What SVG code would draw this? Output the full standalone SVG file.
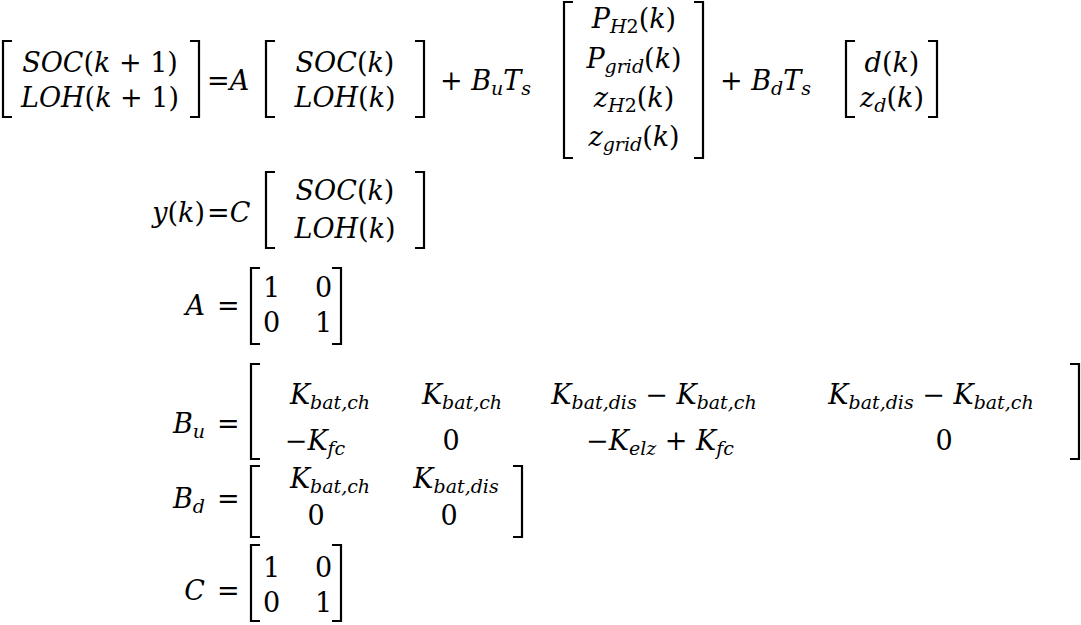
<svg xmlns="http://www.w3.org/2000/svg" width="1081" height="625" viewBox="0 0 1081 625" font-family="'DejaVu Serif','Liberation Serif',serif">
<style>
text{font-family:"DejaVu Serif","Liberation Serif",serif;font-size:27px;fill:#000}
.i{font-style:italic}
.s{font-size:19px}
.b{fill:none;stroke:#000;stroke-width:2.2}
</style>
<rect width="1081" height="625" fill="#fff"/>
<g id="eq1">
<path class="b" d="M12 41H3V117H12M190 41H199V117H190"/>
<text x="100" y="72" text-anchor="middle"><tspan class="i">SOC</tspan>(<tspan class="i">k</tspan> + 1)</text>
<text x="100" y="107" text-anchor="middle"><tspan class="i">LOH</tspan>(<tspan class="i">k</tspan> + 1)</text>
<text x="207" y="90">=<tspan class="i">A</tspan></text>
<path class="b" d="M275 41H266V117H275M415 41H424V117H415"/>
<text x="345" y="72" text-anchor="middle"><tspan class="i">SOC</tspan>(<tspan class="i">k</tspan>)</text>
<text x="345" y="107" text-anchor="middle"><tspan class="i">LOH</tspan>(<tspan class="i">k</tspan>)</text>
<text x="440" y="90">+ <tspan class="i">B</tspan><tspan class="i s" dy="5">u</tspan><tspan class="i" dy="-5">T</tspan><tspan class="i s" dy="5">s</tspan></text>
<path class="b" d="M573 2H564V158H573M694 2H703V158H694"/>
<text x="634" y="28" text-anchor="middle"><tspan class="i">P</tspan><tspan class="i s" dy="5">H</tspan><tspan class="s">2</tspan><tspan dy="-5">(</tspan><tspan class="i">k</tspan>)</text>
<text x="634" y="68" text-anchor="middle"><tspan class="i">P</tspan><tspan class="i s" dy="5">grid</tspan><tspan dy="-5">(</tspan><tspan class="i">k</tspan>)</text>
<text x="634" y="107" text-anchor="middle"><tspan class="i">z</tspan><tspan class="i s" dy="5">H</tspan><tspan class="s">2</tspan><tspan dy="-5">(</tspan><tspan class="i">k</tspan>)</text>
<text x="634" y="146" text-anchor="middle"><tspan class="i">z</tspan><tspan class="i s" dy="5">grid</tspan><tspan dy="-5">(</tspan><tspan class="i">k</tspan>)</text>
<text x="720" y="90">+ <tspan class="i">B</tspan><tspan class="i s" dy="5">d</tspan><tspan class="i" dy="-5">T</tspan><tspan class="i s" dy="5">s</tspan></text>
<path class="b" d="M855 41H846V117H855M928 41H937V117H928"/>
<text x="892" y="72" text-anchor="middle"><tspan class="i">d</tspan>(<tspan class="i">k</tspan>)</text>
<text x="892" y="107" text-anchor="middle"><tspan class="i">z</tspan><tspan class="i s" dy="5">d</tspan><tspan dy="-5">(</tspan><tspan class="i">k</tspan>)</text>
</g>
<g id="eq2">
<text x="205" y="222" text-anchor="end"><tspan class="i">y</tspan>(<tspan class="i">k</tspan>)</text>
<text x="207" y="222">=<tspan class="i">C</tspan></text>
<path class="b" d="M275 172H266V248H275M415 172H424V248H415"/>
<text x="345" y="200" text-anchor="middle"><tspan class="i">SOC</tspan>(<tspan class="i">k</tspan>)</text>
<text x="345" y="238" text-anchor="middle"><tspan class="i">LOH</tspan>(<tspan class="i">k</tspan>)</text>
</g>
<g id="eq3">
<text x="205" y="315" text-anchor="end" class="i">A</text>
<text x="217" y="315">=</text>
<path class="b" d="M260 268H251V344H260M332 268H341V344H332"/>
<text x="263" y="297">1</text><text x="315" y="297">0</text>
<text x="263" y="332">0</text><text x="315" y="332">1</text>
</g>
<g id="eq4">
<text x="205" y="433" text-anchor="end"><tspan class="i">B</tspan><tspan class="i s" dy="5">u</tspan></text>
<text x="217" y="433">=</text>
<path class="b" d="M260 364H251V459H260M1070 364H1079V459H1070"/>
<text x="330" y="404" text-anchor="middle"><tspan class="i">K</tspan><tspan class="i s" dy="5">bat,ch</tspan></text>
<text x="462" y="404" text-anchor="middle"><tspan class="i">K</tspan><tspan class="i s" dy="5">bat,ch</tspan></text>
<text x="654" y="404" text-anchor="middle"><tspan class="i">K</tspan><tspan class="i s" dy="5">bat,dis</tspan><tspan dy="-5"> − </tspan><tspan class="i">K</tspan><tspan class="i s" dy="5">bat,ch</tspan></text>
<text x="931" y="404" text-anchor="middle"><tspan class="i">K</tspan><tspan class="i s" dy="5">bat,dis</tspan><tspan dy="-5"> − </tspan><tspan class="i">K</tspan><tspan class="i s" dy="5">bat,ch</tspan></text>
<text x="315" y="450" text-anchor="middle">−<tspan class="i">K</tspan><tspan class="i s" dy="5">fc</tspan></text>
<text x="451" y="450" text-anchor="middle">0</text>
<text x="660" y="450" text-anchor="middle">−<tspan class="i">K</tspan><tspan class="i s" dy="5">elz</tspan><tspan dy="-5"> + </tspan><tspan class="i">K</tspan><tspan class="i s" dy="5">fc</tspan></text>
<text x="944" y="450" text-anchor="middle">0</text>
</g>
<g id="eq5">
<text x="205" y="508" text-anchor="end"><tspan class="i">B</tspan><tspan class="i s" dy="5">d</tspan></text>
<text x="217" y="508">=</text>
<path class="b" d="M260 466H251V537H260M513 466H522V537H513"/>
<text x="330" y="488" text-anchor="middle"><tspan class="i">K</tspan><tspan class="i s" dy="5">bat,ch</tspan></text>
<text x="456" y="488" text-anchor="middle"><tspan class="i">K</tspan><tspan class="i s" dy="5">bat,dis</tspan></text>
<text x="316" y="525" text-anchor="middle">0</text>
<text x="449" y="525" text-anchor="middle">0</text>
</g>
<g id="eq6">
<text x="205" y="600" text-anchor="end" class="i">C</text>
<text x="217" y="600">=</text>
<path class="b" d="M260 545H251V621H260M332 545H341V621H332"/>
<text x="263" y="577">1</text><text x="315" y="577">0</text>
<text x="263" y="612">0</text><text x="315" y="612">1</text>
</g>
</svg>
